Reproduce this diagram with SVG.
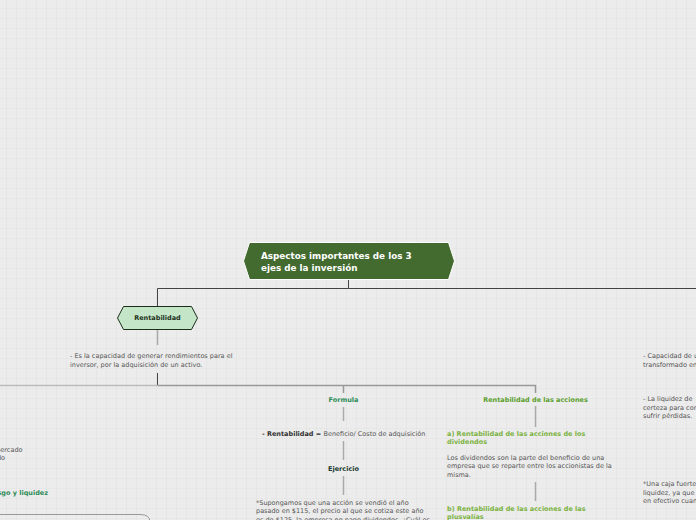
<svg xmlns="http://www.w3.org/2000/svg" width="696" height="520" viewBox="0 0 696 520">
<defs>
<pattern id="grid" x="6" y="8" width="10" height="10" patternUnits="userSpaceOnUse">
<rect width="10" height="10" fill="#ececec"/>
<path d="M0 0H10M0 0V10" stroke="#e2e2e2" stroke-width="1.2" fill="none"/>
</pattern>
<style>
.t{font-family:"DejaVu Sans",Verdana,sans-serif;font-size:6.5px;fill:#555}
.b{font-weight:bold}
.root{font-family:"DejaVu Sans",Verdana,sans-serif;font-size:8.8px;font-weight:bold;fill:#fff}
.dk{stroke:#444;stroke-width:1;fill:none}
.lt{stroke:#aaa;stroke-width:1.5;fill:none}
.g1{fill:#2e8b57}
.g2{fill:#5aa02c}
.g3{fill:#7cb342}
</style>
</defs>
<rect width="696" height="520" fill="url(#grid)"/>
<g id="connectors">
<path class="dk" d="M348.5 280V288.5H157.5V306"/>
<path class="dk" d="M348.5 288.5H696" stroke-width="1.3"/>
<path class="lt" d="M157.5 330V345"/>
<path class="dk" d="M157.5 373V385"/>
<path d="M0 385.5H157.5" stroke="#bbb" stroke-width="1.5" fill="none"/>
<path d="M157.5 385.5H535.5V393M343.5 385.5V393" stroke="#999" stroke-width="1.5" fill="none"/>
<path class="lt" d="M343.5 407V421M343.5 441V460M343.5 476V495M535.5 406V427M535.5 482V501"/>
<path d="M-10 514.5H140Q150 514.5 150 522" stroke="#999" stroke-width="1" fill="none"/>
</g>
<g id="root">
<path d="M243.5 261L249.5 242.5H448.5L454.5 261L448.5 279.5H249.5Z" fill="#436b30" stroke="#fff" stroke-width="1"/>
<text class="root" x="261" y="259">Aspectos importantes de los 3</text>
<text class="root" x="261" y="270.5">ejes de la inversión</text>
</g>
<g id="rentabilidad">
<path d="M117.5 318L123.5 306.5H191.5L197.5 318L191.5 329.5H123.5Z" fill="#c5e5c9" stroke="#1a2e1a" stroke-width="1"/>
<text class="t b" x="157.5" y="320.3" text-anchor="middle" style="fill:#1e3320">Rentabilidad</text>
</g>
<g id="rent-def">
<text class="t" x="70" y="358">- Es la capacidad de generar rendimientos para el</text>
<text class="t" x="70" y="367">inversor, por la adquisición de un activo.</text>
</g>
<g id="formula">
<text class="t b g1" x="343.5" y="401.5" text-anchor="middle">Formula</text>
</g>
<g id="formula-def">
<text class="t" x="262" y="435.5"><tspan class="b" style="fill:#333">- Rentabilidad = </tspan>Beneficio/ Costo de adquisición</text>
</g>
<g id="ejercicio">
<text class="t b" x="343.5" y="470.5" text-anchor="middle" style="fill:#1a3a30">Ejercicio</text>
</g>
<g id="ejercicio-text">
<text class="t" x="256" y="504.5">*Supongamos que una acción se vendió el año</text>
<text class="t" x="256" y="513">pasado en $115, el precio al que se cotiza este año</text>
<text class="t" x="256" y="521.5">es de $125, la empresa no pago dividendos. ¿Cuál es</text>
</g>
<g id="acciones">
<text class="t b g2" x="535.5" y="401.5" text-anchor="middle">Rentabilidad de las acciones</text>
</g>
<g id="dividendos">
<text class="t b g3" x="447" y="435.5">a) Rentabilidad de las acciones de los</text>
<text class="t b g3" x="447" y="443.5">dividendos</text>
<text class="t" x="447" y="459.5">Los dividendos son la parte del beneficio de una</text>
<text class="t" x="447" y="468">empresa que se reparte entre los accionistas de la</text>
<text class="t" x="447" y="476.5">misma.</text>
</g>
<g id="plusvalias">
<text class="t b g3" x="447" y="510.5">b) Rentabilidad de las acciones de las</text>
<text class="t b g3" x="447" y="518.5">plusvalías</text>
</g>
<g id="left-text">
<text class="t" x="22.5" y="452" text-anchor="end">mercado</text>
<text class="t" x="5" y="460" text-anchor="end">do</text>
<text class="t b g1" x="48" y="494.5" text-anchor="end">Riesgo y liquidez</text>
</g>
<g id="right-text">
<text class="t" x="643" y="358">- Capacidad de u</text>
<text class="t" x="643" y="367">transformado en</text>
<text class="t" x="643" y="401">- La liquidez de</text>
<text class="t" x="643" y="409.5">certeza para con</text>
<text class="t" x="643" y="418">sufrir pérdidas.</text>
<text class="t" x="643" y="486">*Una caja fuerte</text>
<text class="t" x="643" y="494.5">liquidez, ya que</text>
<text class="t" x="643" y="503">en efectivo cuan</text>
</g>
</svg>
